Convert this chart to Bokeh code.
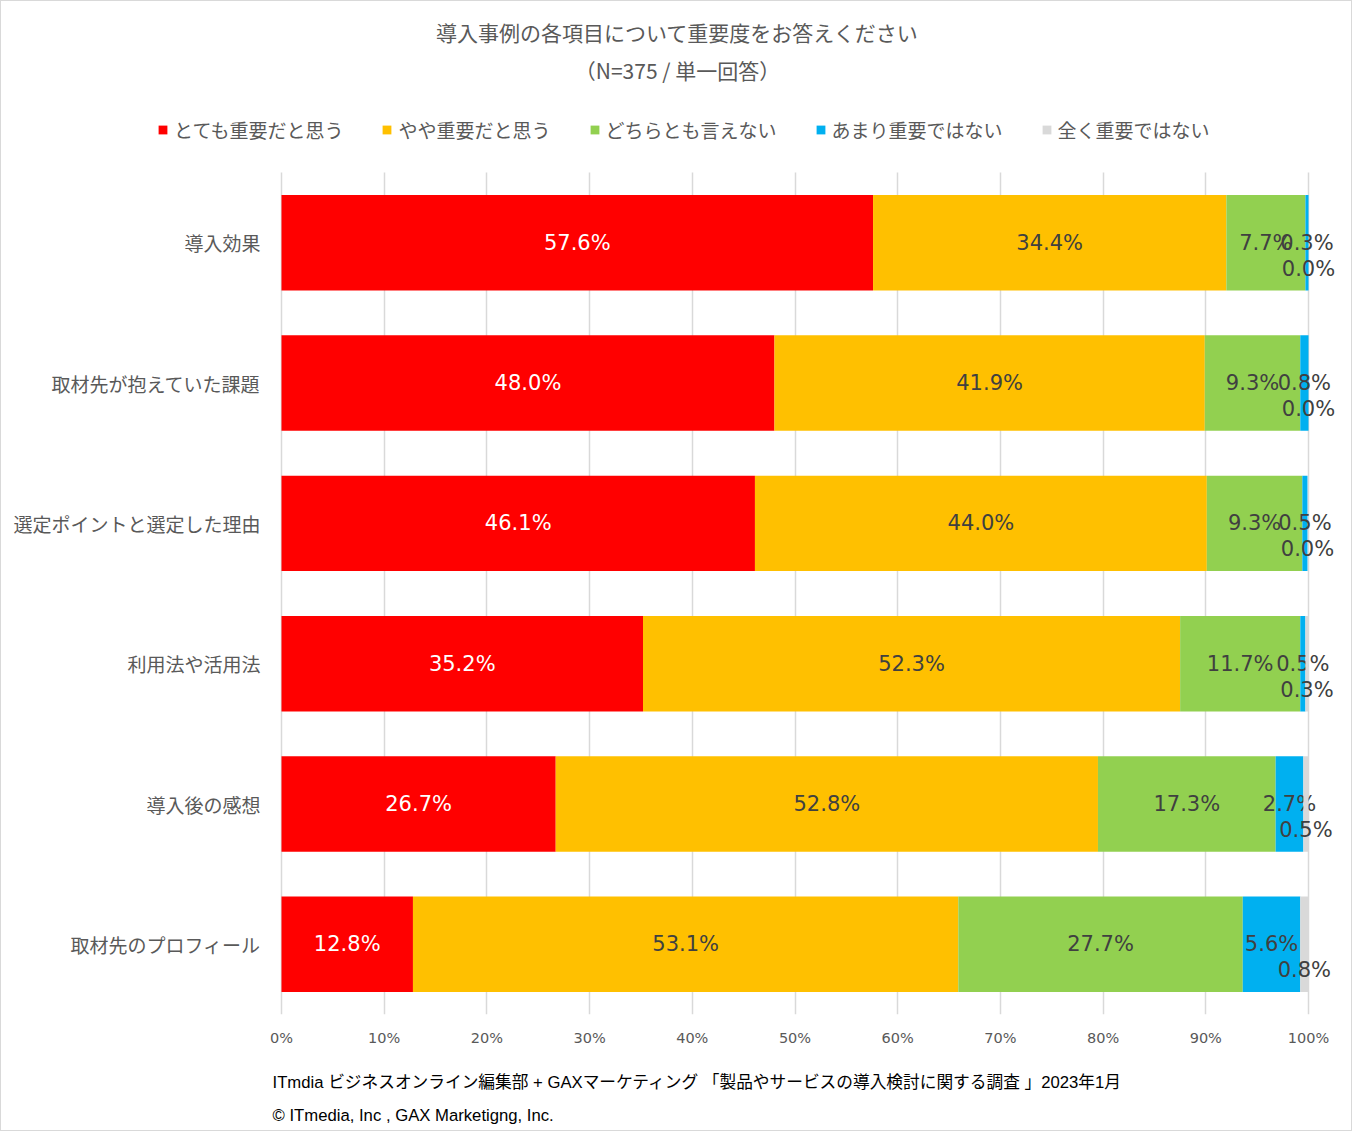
import numpy as np
from bokeh.plotting import figure
from bokeh.models import (ColumnDataSource, Range1d, Label, Legend, LegendItem, Title,
                          PrintfTickFormatter, FixedTicker)
from bokeh.core.properties import value
from bokeh.embed import file_html
from bokeh.resources import INLINE

# ---------- data ----------
categories = ["導入効果", "取材先が抱えていた課題", "選定ポイントと選定した理由",
              "利用法や活用法", "導入後の感想", "取材先のプロフィール"]
series_names = ["とても重要だと思う", "やや重要だと思う", "どちらとも言えない",
                "あまり重要ではない", "全く重要ではない"]
very_important = [57.6, 48.0, 46.1, 35.2, 26.7, 12.8]
somewhat_important = [34.4, 41.9, 44.0, 52.3, 52.8, 53.1]
neutral = [7.7, 9.3, 9.3, 11.7, 17.3, 27.7]
not_very = [0.3, 0.8, 0.5, 0.5, 2.7, 5.6]
not_at_all = [0.0, 0.0, 0.0, 0.3, 0.5, 0.8]
x_ticks = [0, 10, 20, 30, 40, 50, 60, 70, 80, 90, 100]

title_text = "導入事例の各項目について重要度をお答えください"
subtitle_text = "（N=375 / 単一回答）"
footer1 = "ITmdia ビジネスオンライン編集部 + GAXマーケティング 「製品やサービスの導入検討に関する調査 」2023年1月"
footer2 = "© ITmedia, Inc , GAX Marketigng, Inc."

colors = ["#FF0000", "#FFC000", "#92D050", "#00B0F0", "#D9D9D9"]
label_colors = ["#FFFFFF", "#404040", "#404040", "#404040", "#404040"]
label_dy = [0, 0, 0, 0, 26]   # grey labels pushed under the bar end

JP = "Noto Sans CJK JP"
GREY = "#595959"
FOOT_FONT = "Liberation Sans, Noto Sans CJK JP"

# ---------- layout (px) ----------
# the frame covers the whole canvas above the x axis, so that the legend and
# headings (drawn inside it) are not clipped
W, H = 1352, 1131
X0 = 280          # pixel of 0 %
PX = 10.27        # pixels per 1 %
FR, FB = 1338, 1013
ROW = 140.33      # pixels per category row
n = len(categories)

def sy(y):
    return FB - y

p = figure(width=W, height=H, output_backend="svg", toolbar_location=None,
           x_range=Range1d(-X0 / PX, (FR - X0) / PX),
           y_range=Range1d(0, FB / ROW),
           y_axis_location=None, title_location=None,
           min_border_left=0, min_border_right=W - FR,
           min_border_top=0, min_border_bottom=H - FB)
p.styles = {"border": "1px solid #D9D9D9"}
p.outline_line_color = None

ypos = np.arange(n)[::-1] + 0.5
series = [very_important, somewhat_important, neutral, not_very, not_at_all]
left = np.zeros(n)
items = []
for name, vals, col, tcol, dy in zip(series_names, series, colors, label_colors, label_dy):
    vals = np.array(vals)
    right = left + vals
    src = ColumnDataSource(dict(y=ypos, left=left, right=right,
                                mid=(left + right) / 2,
                                txt=[f"{v:.1f}%" for v in vals]))
    r = p.hbar(y="y", left="left", right="right", height=0.68, source=src,
               fill_color=col, line_color=None)
    p.text(x="mid", y="y", text="txt", source=src, text_align="center",
           text_baseline="middle", text_color=tcol, text_font=value("DejaVu Sans"),
           text_font_size="21px", y_offset=dy)
    items.append(LegendItem(label=name, renderers=[r]))
    left = right

# category names, right aligned left of the 0 % line
cat_src = ColumnDataSource(dict(x=np.zeros(n), y=ypos, name=categories))
p.text(x="x", y="y", text="name", source=cat_src, text_align="right",
       text_baseline="middle", text_color=GREY, text_font=value(JP),
       text_font_size="19px", x_offset=-21)

# ---------- axes / grid ----------
p.xaxis.ticker = FixedTicker(ticks=x_ticks)
p.xaxis.formatter = PrintfTickFormatter(format="%d%%")
p.xaxis.axis_line_color = None
p.xaxis.major_tick_line_color = None
p.xaxis.minor_tick_line_color = None
p.xaxis.major_label_standoff = 9
p.xaxis.major_label_text_font = "DejaVu Sans"
p.xaxis.major_label_text_font_size = "14.5px"
p.xaxis.major_label_text_color = GREY

p.xgrid.grid_line_color = "#D9D9D9"
p.xgrid.grid_line_width = 1.5
p.xgrid.cross_bounds = (0, n)
p.ygrid.grid_line_color = None

# ---------- legend ----------
legend = Legend(items=items, orientation="horizontal", location=(156, sy(142)),
                glyph_width=11, glyph_height=11, label_standoff=6, spacing=38,
                padding=0, margin=0, border_line_color=None, background_fill_alpha=0,
                label_text_font=JP, label_text_font_size="19px",
                label_text_color=GREY)
p.add_layout(legend, "center")

# ---------- titles & footer ----------
p.add_layout(Label(x=676, y=sy(30), x_units="screen", y_units="screen",
                   text=title_text, text_align="center", text_baseline="middle",
                   text_font=JP, text_font_size="21px", text_color=GREY))
p.add_layout(Label(x=676, y=sy(68), x_units="screen", y_units="screen",
                   text=subtitle_text, text_align="center", text_baseline="middle",
                   text_font=JP, text_font_size="21px", text_color=GREY))
p.add_layout(Title(text=footer1, align="left", offset=271, standoff=44,
                   vertical_align="bottom",
                   text_font=FOOT_FONT, text_font_size="16.7px",
                   text_font_style="normal", text_color="#000000"), "below")
p.add_layout(Title(text=footer2, align="left", offset=271, standoff=-16,
                   vertical_align="top",
                   text_font=FOOT_FONT, text_font_size="16.7px",
                   text_font_style="normal", text_color="#000000"), "below")

open("out.html", "w").write(file_html(p, INLINE))
